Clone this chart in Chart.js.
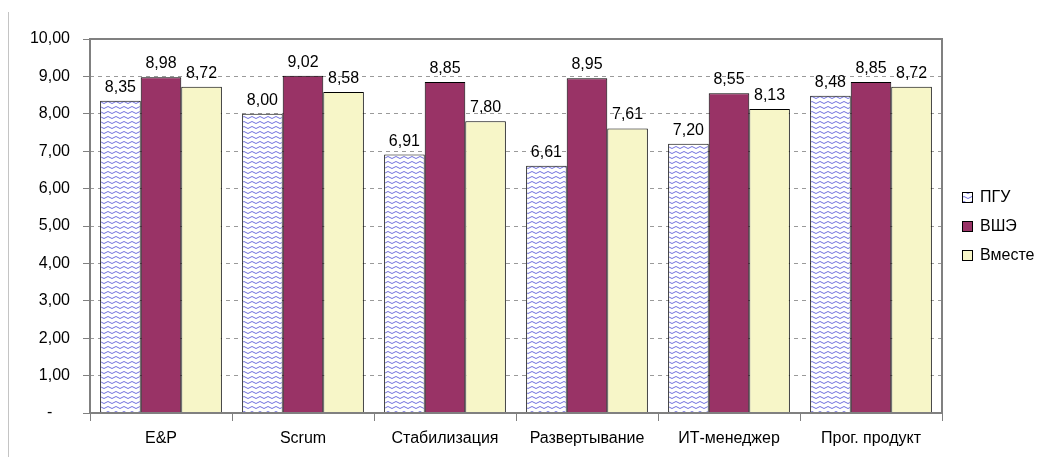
<!DOCTYPE html>
<html>
<head>
<meta charset="utf-8">
<script src="https://cdn.jsdelivr.net/npm/chart.js@4/dist/chart.umd.min.js"></script>
<style>
  html, body { margin: 0; padding: 0; background: #fff; }
  #wrap { width: 1046px; height: 457px; position: relative; }
  canvas { display: block; }
</style>
</head>
<body>
<div id="wrap"><canvas id="chart" width="1046" height="457"></canvas></div>
<script>
// Categories and series
const categories = ['E&P', 'Scrum', 'Стабилизация', 'Развертывание', 'ИТ-менеджер', 'Прог. продукт'];
const seriesNames = ['ПГУ', 'ВШЭ', 'Вместе'];
const pguValues = [8.35, 8.00, 6.91, 6.61, 7.20, 8.48];
const hseValues = [8.98, 9.02, 8.85, 8.95, 8.55, 8.85];
const togetherValues = [8.72, 8.58, 7.80, 7.61, 8.13, 8.72];
const yMin = 0, yMax = 10, yStep = 1;

const FONT = "'Liberation Sans', Arial, sans-serif";

// Numbers with a decimal comma
function fmt(v) {
  return v.toFixed(2).replace('.', ',');
}

// Wavy hatch fill for the first series
function makeWavePattern() {
  const t = document.createElement('canvas');
  t.width = 8; t.height = 5;
  const c = t.getContext('2d');
  c.fillStyle = '#ffffff';
  c.fillRect(0, 0, 8, 5);
  c.strokeStyle = 'rgb(112,112,222)';
  c.lineWidth = 1;
  c.beginPath();
  c.moveTo(0, 3.5);
  c.lineTo(4, 1.5);
  c.lineTo(8, 3.5);
  c.stroke();
  return document.getElementById('chart').getContext('2d').createPattern(t, 'repeat');
}
const wave = makeWavePattern();
const fills = [wave, '#993366', '#F7F6C8'];

// Value labels above every bar
const valueLabels = {
  id: 'valueLabels',
  afterDatasetsDraw(chart) {
    const ctx = chart.ctx;
    ctx.save();
    ctx.font = '16px ' + FONT;
    ctx.fillStyle = '#000';
    ctx.textAlign = 'center';
    ctx.textBaseline = 'alphabetic';
    chart.data.datasets.forEach((ds, di) => {
      chart.getDatasetMeta(di).data.forEach((bar, i) => {
        ctx.fillText(fmt(ds.data[i]), bar.x, bar.y - 9);
      });
    });
    ctx.restore();
  }
};

// Plot frame, outer left rule and the legend at the right
const frameAndLegend = {
  id: 'frameAndLegend',
  afterDraw(chart) {
    const ctx = chart.ctx;
    const a = chart.chartArea;
    ctx.save();
    ctx.strokeStyle = '#808080';
    ctx.lineWidth = 2;
    ctx.strokeRect(a.left, a.top, a.right - a.left, a.bottom - a.top);

    ctx.strokeStyle = '#c4c4c4';
    ctx.lineWidth = 1;
    ctx.beginPath();
    ctx.moveTo(8.5, 12);
    ctx.lineTo(8.5, 457);
    ctx.stroke();

    // legend
    const midY = (a.top + a.bottom) / 2;
    const gap = 29;
    const boxX = 962;
    ctx.font = '16px ' + FONT;
    ctx.textAlign = 'left';
    ctx.textBaseline = 'middle';
    seriesNames.forEach((name, i) => {
      const cy = midY + (i - 1) * gap;
      ctx.fillStyle = fills[i];
      ctx.fillRect(boxX, cy - 5, 10, 10);
      ctx.strokeStyle = '#000';
      ctx.lineWidth = 1;
      ctx.strokeRect(boxX + 0.5, cy - 4.5, 10, 10);
      ctx.fillStyle = '#000';
      ctx.fillText(name, boxX + 18, cy + 1);
    });
    ctx.restore();
  }
};

const seriesValues = [pguValues, hseValues, togetherValues];

new Chart(document.getElementById('chart'), {
  type: 'bar',
  data: {
    labels: categories,
    datasets: seriesNames.map((name, i) => ({
      label: name,
      data: seriesValues[i],
      backgroundColor: fills[i],
      borderColor: '#000',
      borderWidth: 1,
      categoryPercentage: 0.857,
      barPercentage: 1.0
    }))
  },
  options: {
    responsive: false,
    devicePixelRatio: 1,
    animation: false,
    layout: { padding: { top: 39, right: 104, bottom: 0, left: 0 } },
    plugins: {
      legend: { display: false },
      tooltip: { enabled: false }
    },
    scales: {
      x: {
        grid: {
          display: true,
          drawOnChartArea: false,
          drawTicks: true,
          tickLength: 8,
          tickColor: '#808080',
          offset: true
        },
        border: { display: false },
        ticks: {
          font: { family: FONT, size: 16 },
          color: '#000',
          padding: 8,
          maxRotation: 0,
          autoSkip: false
        },
        afterFit(scale) { scale.height = 44; }
      },
      y: {
        min: yMin,
        max: yMax,
        grid: {
          color: '#9a9a9a',
          lineWidth: 1,
          tickLength: 7,
          tickColor: '#808080',
          tickBorderDash: []
        },
        border: { display: false, dash: [4, 4] },
        ticks: {
          stepSize: yStep,
          font: { family: FONT, size: 16 },
          color: '#000',
          padding: 13,
          callback: (v) => v === 0 ? '-    ' : fmt(v)
        },
        afterFit(scale) { scale.width = 90; }
      }
    }
  },
  plugins: [valueLabels, frameAndLegend]
});
</script>
</body>
</html>
